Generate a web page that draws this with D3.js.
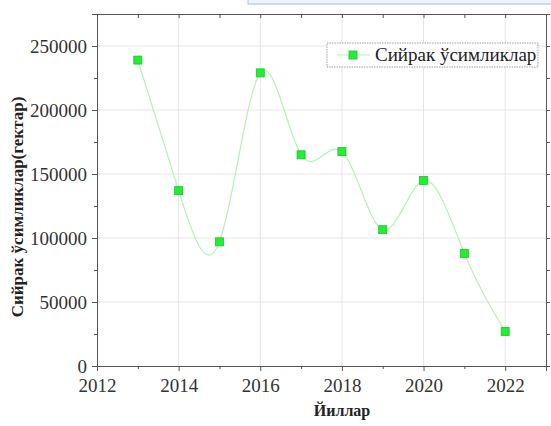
<!DOCTYPE html>
<html>
<head>
<meta charset="utf-8">
<script src="https://cdn.jsdelivr.net/npm/d3@7/dist/d3.min.js"></script>
<style>
  html, body { margin: 0; padding: 0; background: #fff; }
  svg { display: block; }
  text { font-family: "Liberation Serif", "Times New Roman", serif; }
</style>
</head>
<body>
<svg id="chart" width="551" height="426"></svg>
<script>
// Rare plant area by year (hectares)
const years = [2013, 2014, 2015, 2016, 2017, 2018, 2019, 2020, 2021, 2022];
const areas = [239000, 137000, 97000, 229000, 165000, 167500, 106500, 145000, 88000, 27000];
const xTicks = [2012, 2014, 2016, 2018, 2020, 2022];
const yTicks = [0, 50000, 100000, 150000, 200000, 250000];
const seriesName = "Сийрак ўсимликлар";
const xTitle = "Йиллар";
const yTitle = "Сийрак ўсимликлар(гектар)";

const svg = d3.select("#chart");
const m = { left: 97, right: 546, top: 14, bottom: 366 };

const x = d3.scaleLinear().domain([2012, 2023]).range([m.left, m.right]);
const y = d3.scaleLinear().domain([0, 275000]).range([m.bottom, m.top]);

// selection band along the top edge
svg.append("rect")
  .attr("x", 248).attr("y", -2).attr("width", 310).attr("height", 6)
  .attr("fill", "#eef3fd").attr("stroke", "#a8bdea").attr("stroke-width", 1);

// grid
const grid = svg.append("g").attr("stroke", "#e6e6e6").attr("stroke-width", 1);
grid.selectAll("line.gx").data(xTicks.filter(d => d > 2012)).join("line")
  .attr("x1", d => x(d)).attr("x2", d => x(d))
  .attr("y1", m.top).attr("y2", m.bottom);
grid.selectAll("line.gy").data(yTicks.filter(d => d > 0)).join("line")
  .attr("x1", m.left).attr("x2", m.right)
  .attr("y1", d => y(d)).attr("y2", d => y(d));

const axisColor = "#555";
const tickLabel = g => g.selectAll("text")
  .style("font-family", "'Liberation Serif', 'Times New Roman', serif")
  .style("font-size", "19px").style("fill", "#333");

// bottom axis
const minorX = d3.range(2012, 2024, 1);
const minorY = d3.range(0, 275001, 25000);
svg.append("g").attr("transform", `translate(0,${m.bottom})`)
  .call(d3.axisBottom(x).tickValues(xTicks).tickFormat(d3.format("d")).tickSize(5).tickPadding(8))
  .call(g => g.select(".domain").attr("stroke", axisColor))
  .call(g => g.selectAll(".tick line").attr("stroke", axisColor))
  .call(tickLabel);
svg.append("g").attr("transform", `translate(0,${m.bottom})`)
  .call(d3.axisBottom(x).tickValues(minorX.filter(d => d % 2)).tickFormat("").tickSize(3))
  .call(g => g.select(".domain").remove())
  .call(g => g.selectAll(".tick line").attr("stroke", axisColor));

// left axis
svg.append("g").attr("transform", `translate(${m.left},0)`)
  .call(d3.axisLeft(y).tickValues(yTicks).tickFormat(d3.format("d")).tickSize(5).tickPadding(5))
  .call(g => g.select(".domain").attr("stroke", axisColor))
  .call(g => g.selectAll(".tick line").attr("stroke", axisColor))
  .call(tickLabel);
svg.append("g").attr("transform", `translate(${m.left},0)`)
  .call(d3.axisLeft(y).tickValues(minorY.filter(d => d % 50000)).tickFormat("").tickSize(3))
  .call(g => g.select(".domain").remove())
  .call(g => g.selectAll(".tick line").attr("stroke", axisColor));

// top axis (ticks inward)
svg.append("g").attr("transform", `translate(0,${m.top})`)
  .call(d3.axisBottom(x).tickValues(minorX).tickFormat("").tickSizeInner(4).tickSizeOuter(0))
  .call(g => g.select(".domain").attr("stroke", axisColor))
  .call(g => g.selectAll(".tick line").attr("stroke", axisColor));

// right axis (ticks outward)
svg.append("g").attr("transform", `translate(${m.right},0)`)
  .call(d3.axisRight(y).tickValues(minorY).tickFormat("").tickSizeInner(4).tickSizeOuter(0))
  .call(g => g.select(".domain").attr("stroke", axisColor))
  .call(g => g.selectAll(".tick line").attr("stroke", axisColor));

// smooth line
const line = d3.line().x((d, i) => x(years[i])).y(d => y(d)).curve(d3.curveNatural);
svg.append("path").datum(areas)
  .attr("d", line)
  .attr("fill", "none").attr("stroke", "#b4f2b0").attr("stroke-width", 1.2);

// markers
const ms = 8;
svg.append("g").selectAll("rect").data(areas).join("rect")
  .attr("x", (d, i) => x(years[i]) - ms / 2)
  .attr("y", d => y(d) - ms / 2)
  .attr("width", ms).attr("height", ms)
  .attr("fill", "#22ee33").attr("stroke", "#1cc22a").attr("stroke-width", 0.8);

// legend
const lg = svg.append("g");
lg.append("rect").attr("x", 327).attr("y", 43).attr("width", 211).attr("height", 24)
  .attr("fill", "#fff").attr("stroke", "#888").attr("stroke-width", 0.8)
  .attr("stroke-dasharray", "1.5,1");
lg.append("line").attr("x1", 337).attr("x2", 370).attr("y1", 55).attr("y2", 55)
  .attr("stroke", "#b4f2b0").attr("stroke-width", 1.2);
lg.append("rect").attr("x", 349).attr("y", 51).attr("width", 8).attr("height", 8)
  .attr("fill", "#22ee33").attr("stroke", "#1cc22a").attr("stroke-width", 0.8);
lg.append("text").attr("x", 375).attr("y", 61)
  .style("font-size", "19px").attr("fill", "#222").text(seriesName);

// axis titles
svg.append("text").attr("x", 342).attr("y", 416).attr("text-anchor", "middle")
  .style("font-size", "16px").attr("font-weight", "bold").attr("fill", "#222").text(xTitle);
svg.append("text")
  .attr("transform", `translate(23,${(m.top + m.bottom) / 2 + 17}) rotate(-90)`)
  .attr("text-anchor", "middle")
  .style("font-size", "17px").attr("font-weight", "bold").attr("fill", "#222").text(yTitle);
</script>
</body>
</html>
